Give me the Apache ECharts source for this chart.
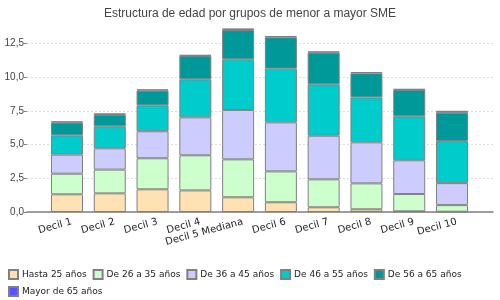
<!DOCTYPE html>
<html><head><meta charset="utf-8">
<script src="https://cdn.jsdelivr.net/npm/echarts@6/dist/echarts.min.js"></script>
<style>html,body{margin:0;padding:0;background:#fff}#c{width:500px;height:300px}</style>
</head><body><div id="c"></div>
<script>
var categories = ['Decil 1','Decil 2','Decil 3','Decil 4','Decil 5 Mediana','Decil 6','Decil 7','Decil 8','Decil 9','Decil 10'];
var hasta25 = [1.31,1.38,1.68,1.60,1.09,0.72,0.35,0.20,0.05,0.02];
var de26a35 = [1.53,1.76,2.30,2.60,2.81,2.29,2.07,1.92,1.28,0.49];
var de36a45 = [1.41,1.58,2.00,2.81,3.66,3.63,3.23,3.04,2.50,1.63];
var de46a55 = [1.43,1.63,1.92,2.82,3.75,3.98,3.81,3.33,3.26,3.11];
var de56a65 = [0.94,0.84,1.09,1.75,2.17,2.32,2.34,1.78,1.97,2.10];
var mayor65 = [0.10,0.12,0.10,0.05,0.12,0.10,0.10,0.10,0.05,0.15];
var seriesNames = ['Hasta 25 años','De 26 a 35 años','De 36 a 45 años','De 46 a 55 años','De 56 a 65 años','Mayor de 65 años'];
var seriesData = [hasta25,de26a35,de36a45,de46a55,de56a65,mayor65];
var colors = ['#FFE2B4','#CCFFCC','#CCCCFF','#00CCCC','#009999','#5555FF'];
var yTicks = {min:0, max:12.5, interval:2.5};

var chart = echarts.init(document.getElementById('c'), null, {renderer:'canvas'});
var pxPerUnit = 13.5, baseY = 212;
var series = seriesNames.map(function(n,i){
  return {name:n, type:'bar', stack:'s', xAxisIndex:1, yAxisIndex:1, barWidth:32,
    data:seriesData[i], itemStyle:{color:colors[i], borderColor:'#808080', borderWidth:1},
    emphasis:{disabled:true}};
});
chart.setOption({
  animation:false,
  title:{text:'Estructura de edad por grupos de menor a mayor SME', left:'center', top:3,
    textStyle:{fontFamily:'Liberation Sans', fontSize:12, fontWeight:'normal', color:'#444'}},
  grid:[
    {left:27, right:7, top:baseY - yTicks.max*pxPerUnit, bottom:300-baseY},
    {left:45.6, right:26.6, top:baseY - 14*pxPerUnit, bottom:300-baseY}
  ],
  xAxis:[
    {gridIndex:0, type:'category', data:categories, axisLine:{lineStyle:{color:'#808080', width:1.5}},
      axisTick:{show:false}, axisLabel:{show:false}},
    {gridIndex:1, type:'category', data:categories, axisLine:{show:false}, axisTick:{show:false},
      axisLabel:{rotate:15, fontFamily:'DejaVu Sans', fontSize:10, color:'#222', margin:11, interval:0,
        padding:[0,-5,0,0]}}
  ],
  yAxis:[
    {gridIndex:0, type:'value', min:yTicks.min, max:yTicks.max, interval:yTicks.interval,
      axisLine:{show:false}, axisTick:{show:true, length:3, lineStyle:{color:'#808080'}},
      axisLabel:{margin:3, fontFamily:'Liberation Sans', fontSize:10, color:'#444',
        formatter:function(v){return v.toFixed(1).replace('.',',');}},
      splitLine:{lineStyle:{color:'#dddddd', type:[2,2]}}},
    {gridIndex:1, type:'value', min:0, max:14, show:false, splitLine:{show:false}}
  ],
  legend:{left:3, top:264, width:475, itemWidth:9, itemHeight:9, itemGap:6,
    icon:'rect', data:seriesNames,
    textStyle:{fontFamily:'DejaVu Sans', fontSize:9, color:'#222', padding:[0,0,0,-1]}},
  series:series
});
</script></body></html>
